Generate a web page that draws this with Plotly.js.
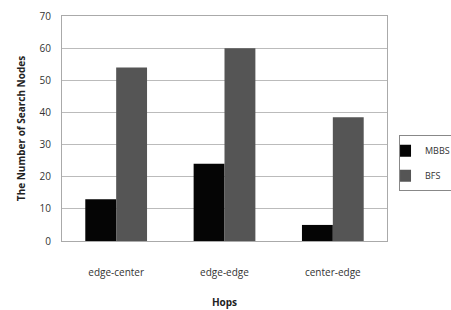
<!DOCTYPE html>
<html><head><meta charset="utf-8">
<script src="https://cdn.plot.ly/plotly-3.0.1.min.js"></script>
<style>html,body{margin:0;padding:0;background:#fff;}#c{width:451px;height:310px;}</style>
</head><body><div id="c"></div>
<script>
const categories = ["edge-center", "edge-edge", "center-edge"];
const mbbs = [13, 24, 5];
const bfs = [54, 60, 38.5];
const yTicks = [0, 10, 20, 30, 40, 50, 60, 70];

const fam = "Open Sans, DejaVu Sans, sans-serif";
const font = {family: fam, size: 10, color: "#333"};
const data = [
  {type: "bar", name: "MBBS", x: categories, y: mbbs, marker: {color: "#050505"}, legendgroup: "a"},
  {type: "bar", name: "BFS", x: categories, y: bfs, marker: {color: "#555555"}, legendgroup: "b"}
];
const layout = {
  width: 451, height: 310,
  margin: {l: 62, r: 64, t: 16, b: 69, autoexpand: false},
  paper_bgcolor: "#fff", plot_bgcolor: "#fff",
  font: font,
  barmode: "group", bargap: 0.43, bargroupgap: 0,
  showlegend: true,
  legend: {x: 1.037, y: 0.47, xanchor: "left", yanchor: "top", bordercolor: "#888", borderwidth: 1,
           font: {family: fam, size: 9, color: "#333"}, traceorder: "grouped", tracegroupgap: 6,
           itemwidth: 30, indentation: -15},
  xaxis: {type: "category", showgrid: false, showline: true, linecolor: "#aaa", linewidth: 1, mirror: true,
          ticks: "", ticklabelstandoff: 22, tickfont: font,
          title: {text: "<b>Hops</b>", standoff: 20, font: {family: fam, size: 10, color: "#222"}}},
  yaxis: {range: [0, 70], tickvals: yTicks, showgrid: true, gridcolor: "#bbb", gridwidth: 1,
          showline: true, linecolor: "#aaa", linewidth: 1, mirror: true, ticks: "", zeroline: false,
          ticklabelstandoff: 8, tickfont: font,
          title: {text: "<b>The Number of Search Nodes</b>", standoff: 12, font: {family: fam, size: 10, color: "#222"}}}
};
Plotly.newPlot("c", data, layout, {displayModeBar: false, staticPlot: true});
</script></body></html>
